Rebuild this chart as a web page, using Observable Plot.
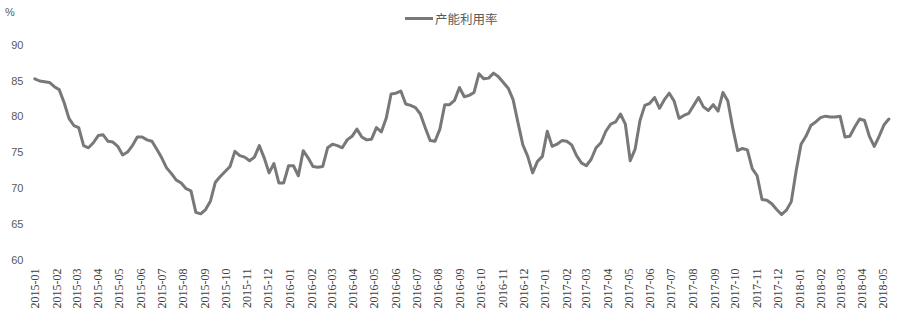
<!DOCTYPE html>
<html>
<head>
<meta charset="utf-8">
<script src="https://cdn.jsdelivr.net/npm/d3@7"></script>
<script src="https://cdn.jsdelivr.net/npm/@observablehq/plot@0.6"></script>
<style>
  html, body { margin: 0; padding: 0; background: #fff; }
  #wrap { position: relative; width: 900px; height: 316px; overflow: hidden; }
  #legend { position: absolute; top: 9px; left: 405px; display: flex; align-items: center;
            font-family: "Noto Sans CJK SC", sans-serif; font-size: 12.5px; color: #595959; }
  #legend .sw { width: 28px; height: 3px; background: #787878; margin-right: 2px; }
  #unit { position: absolute; left: 5px; top: 6px; font-family: "Liberation Sans", sans-serif;
          font-size: 11px; color: #595959; }
</style>
</head>
<body>
<div id="wrap">
  <div id="chart"></div>
  <div id="legend"><div class="sw"></div><span id="legendText"></span></div>
  <div id="unit"></div>
</div>
<script>
// Series: weekly capacity utilization (%), first week 2015-01-02
const seriesName = "产能利用率";
const unitLabel = "%";
const firstWeek = "2015-01-02";
const utilization = [
  85.3, 85.0, 84.9, 84.8, 84.2, 83.8, 82.0, 79.8, 78.8, 78.5,
  76.0, 75.7, 76.4, 77.4, 77.5, 76.6, 76.5, 75.9, 74.7, 75.1,
  76.0, 77.2, 77.2, 76.8, 76.6, 75.5, 74.3, 72.9, 72.1, 71.2,
  70.8, 70.0, 69.7, 66.7, 66.5, 67.1, 68.3, 70.9, 71.7, 72.4,
  73.1, 75.2, 74.6, 74.4, 73.9, 74.4, 76.0, 74.3, 72.2, 73.5,
  70.8, 70.8, 73.2, 73.2, 71.8, 75.3, 74.3, 73.1, 73.0, 73.1,
  75.7, 76.2, 76.0, 75.7, 76.8, 77.3, 78.3, 77.2, 76.8, 76.9,
  78.5, 77.9, 79.8, 83.2, 83.3, 83.6, 81.8, 81.6, 81.3, 80.4,
  78.5, 76.7, 76.6, 78.3, 81.7, 81.7, 82.3, 84.1, 82.8, 83.0,
  83.4, 86.0, 85.3, 85.4, 86.1, 85.6, 84.8, 84.0, 82.4, 79.2,
  76.1, 74.5, 72.2, 73.8, 74.5, 78.0, 75.9, 76.2, 76.7, 76.6,
  76.1, 74.6, 73.6, 73.2, 74.1, 75.7, 76.4, 78.0, 79.0, 79.3,
  80.4, 79.0, 73.9, 75.5, 79.5, 81.6, 81.9, 82.7, 81.2, 82.4,
  83.3, 82.2, 79.8, 80.2, 80.5, 81.6, 82.7, 81.4, 80.9, 81.7,
  80.8, 83.4, 82.2, 78.5, 75.3, 75.6, 75.4, 72.8, 71.8, 68.5,
  68.4, 67.9, 67.1, 66.4, 67.0, 68.2, 72.5, 76.2, 77.3, 78.8,
  79.3, 79.9, 80.1, 80.0, 80.0, 80.1, 77.2, 77.3, 78.6, 79.7,
  79.5, 77.3, 75.9, 77.3, 78.9, 79.7
];
const yTicks = [60, 65, 70, 75, 80, 85, 90];
const xTickStart = "2015-01-01";
const xTickEnd = "2018-06-01"; // exclusive: last label 2018-05

const start = new Date(firstWeek + "T00:00:00Z");
const data = utilization.map((v, i) => ({date: d3.utcDay.offset(start, 7 * i), value: v}));
const monthTicks = d3.utcMonths(new Date(xTickStart + "T00:00:00Z"), new Date(xTickEnd + "T00:00:00Z"));
const lastDate = data[data.length - 1].date;

const chart = Plot.plot({
  width: 900,
  height: 316,
  marginLeft: 33.6,
  marginRight: 11.6,
  marginTop: 44.6,
  marginBottom: 56,
  style: {fontFamily: "Liberation Sans, sans-serif", fontSize: "11px", color: "#595959", background: "#fff"},
  x: {type: "utc", domain: [new Date(xTickStart + "T00:00:00Z"), lastDate]},
  y: {domain: [60, 90]},
  marks: [
    Plot.axisX({ticks: monthTicks, tickFormat: d3.utcFormat("%Y-%m"), tickRotate: -90, tickSize: 0, tickPadding: 8,
                label: null, fontFamily: "Liberation Serif, serif", fontSize: 12, dx: 1.5, fill: "#404040"}),
    Plot.axisY({ticks: yTicks, tickSize: 0, tickPadding: 10.6, label: null}),
    Plot.line(data, {x: "date", y: "value", stroke: "#787878", strokeWidth: 3, strokeLinejoin: "round", strokeLinecap: "round"})
  ]
});
document.getElementById("chart").appendChild(chart);
document.getElementById("legendText").textContent = seriesName;
document.getElementById("unit").textContent = unitLabel;
</script>
</body>
</html>
